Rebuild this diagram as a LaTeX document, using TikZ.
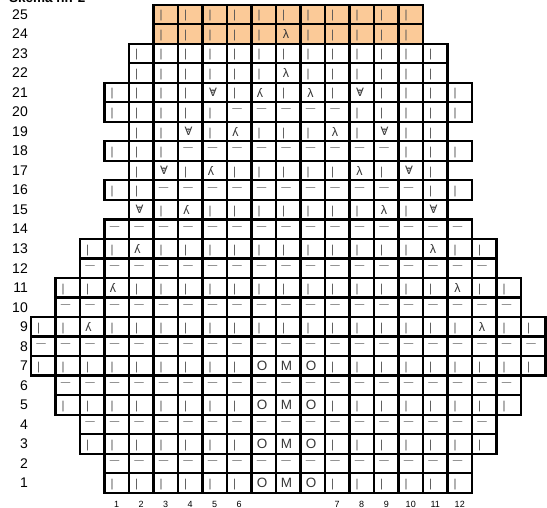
\documentclass[tikz,border=0pt]{standalone}
\usepackage{fontspec}
\usepackage{graphicx}
\setmainfont{Liberation Sans}
\newfontfamily\dvs{DejaVu Sans}
\definecolor{peach}{RGB}{251,202,152}
\definecolor{glyphgray}{RGB}{85,85,85}
\definecolor{darkglyph}{RGB}{55,55,55}
\newcommand\glyphk{|}
\newcommand\glyphp{—}
\newcommand\glyphl{λ}
\newcommand\glyphr{\reflectbox{λ}}
\newcommand\glyphv{\ooalign{∀\cr\hidewidth\raisebox{3.6pt}{\fontsize{4.5}{4.5}\selectfont 2}\hidewidth\cr}}
\newcommand\glypho{O}
\newcommand\glyphm{M}
\newcommand\chartrow[3]{%
  \foreach \s [count=\i from 0] in {#3} {
    \pgfmathsetmacro\cl{31+24.5*(#2+\i)}
    \pgfmathsetmacro\ct{4.7+19.52*(25-#1)}
    \draw[cellline] (\cl,\ct) rectangle ++(24.5,19.52);
    \node[glyph, g\s] (g-#1-\i) at (\cl,\ct+9.76) {\csname glyph\s\endcsname};
  }%
}
\tikzset{
  cellline/.style={draw=black, line width=2.2pt},
  glyph/.style={inner sep=0pt, outer sep=0pt, anchor=center},
  gk/.style={xshift=7.5pt, yshift=-1.5pt, text=glyphgray, font=\fontsize{11.5}{11.5}\selectfont},
  gp/.style={xshift=10pt, yshift=1.5pt, text=glyphgray, font=\fontsize{9.5}{9.5}\selectfont},
  gl/.style={xshift=10pt, text=darkglyph, font=\fontsize{12.5}{12.5}\selectfont},
  gr/.style={xshift=8.5pt, text=darkglyph, font=\fontsize{12.5}{12.5}\selectfont},
  gv/.style={xshift=10.5pt, text=darkglyph, font=\dvs\fontsize{11.5}{11.5}\selectfont},
  go/.style={xshift=10.5pt, text=darkglyph, font=\fontsize{13.5}{13.5}\selectfont},
  gm/.style={xshift=10.5pt, text=darkglyph, font=\fontsize{13.5}{13.5}\selectfont},
  rowlabel/.style={anchor=east, inner sep=0pt, font=\fontsize{14}{14}\selectfont},
  collabel/.style={anchor=center, inner sep=0pt, font=\fontsize{9}{9}\selectfont},
  titlestyle/.style={anchor=base west, inner sep=0pt, font=\bfseries\fontsize{13.5}{13.5}\selectfont}
}
\begin{document}
\begin{tikzpicture}[x=1pt, y=-1pt]
\useasboundingbox (0,0) rectangle (547,508);
\node[titlestyle] (title) at (9,2.8) {Skema nr. 2};
\fill[peach] (31+24.5*5,4.7) rectangle ++(24.5*11,19.52*2);
\chartrow{25}{5}{k,k,k,k,k,k,k,k,k,k,k}
\chartrow{24}{5}{k,k,k,k,k,l,k,k,k,k,k}
\chartrow{23}{4}{k,k,k,k,k,k,k,k,k,k,k,k,k}
\chartrow{22}{4}{k,k,k,k,k,k,l,k,k,k,k,k,k}
\chartrow{21}{3}{k,k,k,k,v,k,r,k,l,k,v,k,k,k,k}
\chartrow{20}{3}{k,k,k,k,k,p,p,p,p,p,k,k,k,k,k}
\chartrow{19}{4}{k,k,v,k,r,k,k,k,l,k,v,k,k}
\chartrow{18}{3}{k,k,k,p,p,p,p,p,p,p,p,p,k,k,k}
\chartrow{17}{4}{k,v,k,r,k,k,k,k,k,l,k,v,k}
\chartrow{16}{3}{k,k,p,p,p,p,p,p,p,p,p,p,p,k,k}
\chartrow{15}{4}{v,k,r,k,k,k,k,k,k,k,l,k,v}
\chartrow{14}{3}{p,p,p,p,p,p,p,p,p,p,p,p,p,p,p}
\chartrow{13}{2}{k,k,r,k,k,k,k,k,k,k,k,k,k,k,l,k,k}
\chartrow{12}{2}{p,p,p,p,p,p,p,p,p,p,p,p,p,p,p,p,p}
\chartrow{11}{1}{k,k,r,k,k,k,k,k,k,k,k,k,k,k,k,k,l,k,k}
\chartrow{10}{1}{p,p,p,p,p,p,p,p,p,p,p,p,p,p,p,p,p,p,p}
\chartrow{9}{0}{k,k,r,k,k,k,k,k,k,k,k,k,k,k,k,k,k,k,l,k,k}
\chartrow{8}{0}{p,p,p,p,p,p,p,p,p,p,p,p,p,p,p,p,p,p,p,p,p}
\chartrow{7}{0}{k,k,k,k,k,k,k,k,k,o,m,o,k,k,k,k,k,k,k,k,k}
\chartrow{6}{1}{p,p,p,p,p,p,p,p,p,p,p,p,p,p,p,p,p,p,p}
\chartrow{5}{1}{k,k,k,k,k,k,k,k,o,m,o,k,k,k,k,k,k,k,k}
\chartrow{4}{2}{p,p,p,p,p,p,p,p,p,p,p,p,p,p,p,p,p}
\chartrow{3}{2}{k,k,k,k,k,k,k,o,m,o,k,k,k,k,k,k,k}
\chartrow{2}{3}{p,p,p,p,p,p,p,p,p,p,p,p,p,p,p}
\chartrow{1}{3}{k,k,k,k,k,k,o,m,o,k,k,k,k,k,k}
\foreach \r in {1,...,25}
  \node[rowlabel] (r-\r) at (28,{4.7+19.52*(25-\r)+9.76}) {\r};
\foreach \n in {1,...,12} {
  \pgfmathtruncatemacro\cc{\n<7 ? \n+2 : \n+5}
  \node[collabel] (c-\n) at ({31+24.5*(\cc+0.5)},504) {\n};
}
\end{tikzpicture}
\end{document}
